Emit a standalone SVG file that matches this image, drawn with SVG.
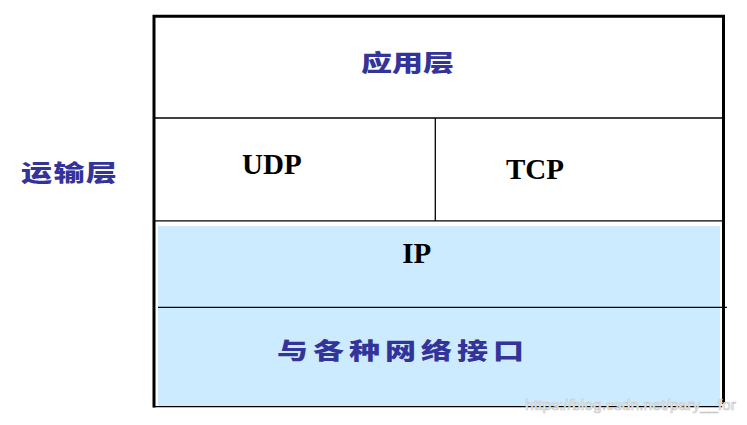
<svg xmlns="http://www.w3.org/2000/svg" width="747" height="425" viewBox="0 0 747 425">
  <style>
    .cjk { font-family: "Noto Sans CJK SC", "Noto Sans", sans-serif; font-weight: 900; font-size: 23px; fill: #333399; }
    .lat { font-family: "Liberation Serif", "Times New Roman", serif; font-weight: 700; font-size: 29px; fill: #000000; }
    .thin { stroke: #000000; stroke-width: 1.3; fill: none; }
    .thick { stroke: #000000; stroke-width: 3; fill: none; }
    .wm { font-family: "Liberation Sans", Arial, sans-serif; font-size: 15px; fill: #ffffff; stroke: #c8c8c8; stroke-width: 0.7; }
  </style>
  <rect x="0" y="0" width="747" height="425" fill="#ffffff"/>

  <g id="lower-fill">
    <rect x="158" y="226" width="562" height="180" fill="#CCEBFE"/>
  </g>

  <g id="connectors">
    <line class="thin" x1="155" y1="118" x2="722" y2="118"/>
    <line class="thin" x1="435.3" y1="118" x2="435.3" y2="221"/>
    <line class="thin" x1="155" y1="220.8" x2="722" y2="220.8"/>
    <line class="thin" x1="158" y1="307.3" x2="727" y2="307.3"/>
    <line class="thin" x1="153" y1="406.6" x2="722" y2="406.6"/>
    <path class="thick" d="M154 407.5 V16.3 H723.5 V404"/>
  </g>

  <g id="app-layer">
    <text class="cjk" transform="translate(361 70.5) scale(1.35 1)" x="0" y="0" textLength="69" lengthAdjust="spacing">应用层</text>
  </g>

  <g id="transport-label">
    <text class="cjk" transform="translate(21 180.5) scale(1.35 1)" x="0" y="0" textLength="71" lengthAdjust="spacing">运输层</text>
  </g>

  <g id="udp">
    <text class="lat" x="242" y="174.3">UDP</text>
  </g>

  <g id="tcp">
    <text class="lat" x="535" y="179.3" text-anchor="middle">TCP</text>
  </g>

  <g id="ip">
    <text class="lat" x="416.7" y="262.6" text-anchor="middle">IP</text>
  </g>

  <g id="net-interface">
    <text class="cjk" transform="translate(277 358.5) scale(1.35 1)" x="0" y="0" textLength="183" lengthAdjust="spacing">与各种网络接口</text>
  </g>

  <g id="watermark">
    <text class="wm" x="525" y="410" textLength="211" lengthAdjust="spacingAndGlyphs">https://blog.csdn.net/pary__for</text>
  </g>
</svg>
